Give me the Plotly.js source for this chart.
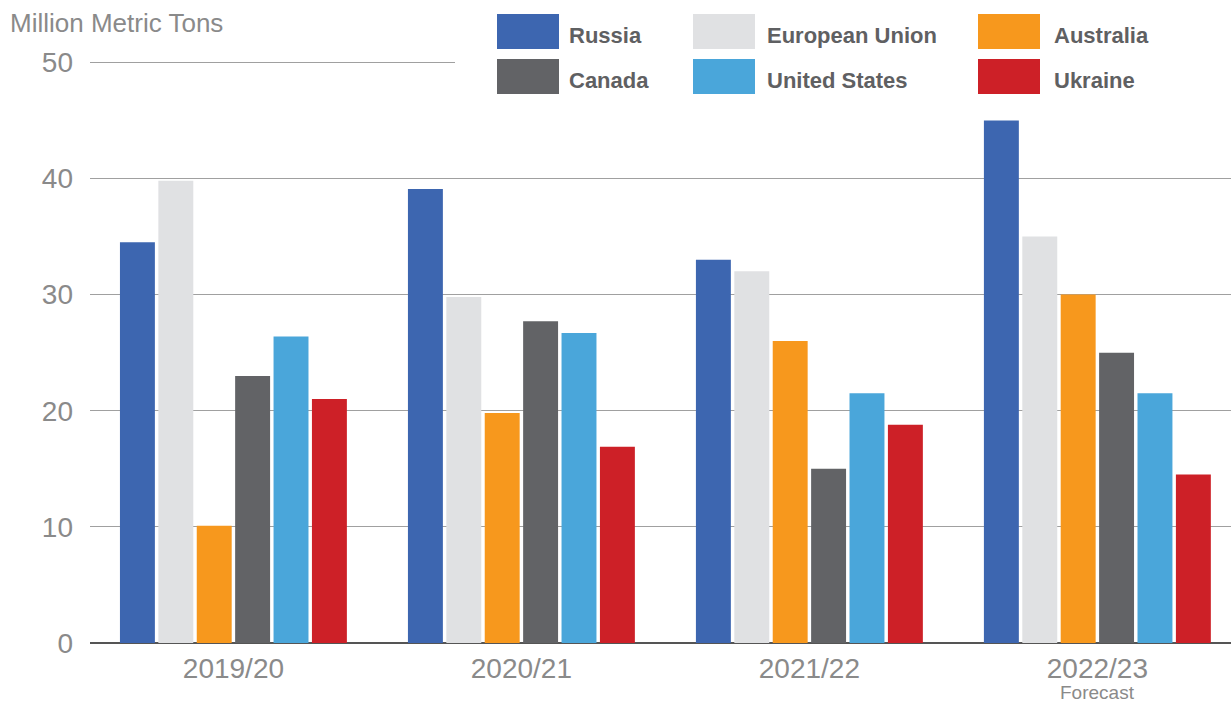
<!DOCTYPE html>
<html>
<head>
<meta charset="utf-8">
<script src="https://cdn.plot.ly/plotly-3.0.1.min.js"></script>
<style>html,body{margin:0;padding:0;background:#fff;}#chart{width:1231px;height:704px;}</style>
</head>
<body>
<div id="chart"></div>
<script>
const categories = ["2019/20", "2020/21", "2021/22", "2022/23"];
const seriesNames = ["Russia", "European Union", "Australia", "Canada", "United States", "Ukraine"];
const seriesColors = ["#3d66b0", "#e0e1e3", "#f7981d", "#626366", "#4aa6da", "#cd2027"];
const russia = [34.5, 39.1, 33.0, 45.0];
const europeanUnion = [39.8, 29.8, 32.0, 35.0];
const australia = [10.1, 19.8, 26.0, 30.0];
const canada = [23.0, 27.7, 15.0, 25.0];
const unitedStates = [26.4, 26.7, 21.5, 21.5];
const ukraine = [21.0, 16.9, 18.8, 14.5];
const yTicks = [0, 10, 20, 30, 40, 50];
const forecastNote = "Forecast";
const yUnit = "Million Metric Tons";

const seriesValues = [russia, europeanUnion, australia, canada, unitedStates, ukraine];

const W = 1231, H = 704;
const mL = 90, mR = 0, mT = 60, mB = 61;
const yTop = 50.2;
const pw = W - mL - mR, ph = H - mT - mB;
const px = x => (x - mL) / pw;
const py = y => (H - mB - y) / ph;
const FONT = "Liberation Sans, Arial, sans-serif";

const traces = seriesNames.map((n, i) => ({
  type: "bar",
  name: n,
  x: categories,
  y: seriesValues[i],
  marker: {color: seriesColors[i], line: {width: 0}},
  hoverinfo: "x+y+name"
}));

const shapes = [];
const annotations = [];

// white panel behind legend hides the gridline under it
shapes.push({type: "rect", xref: "paper", yref: "paper", x0: px(455), x1: px(1231), y0: py(102), y1: py(0),
  fillcolor: "#ffffff", line: {width: 0}, layer: "above"});

const colX = [497, 693, 978];
const rowY = [14, 59];
const textX = [567, 765, 1052];
seriesNames.forEach((n, i) => {
  const c = i % 3, r = Math.floor(i / 3);
  shapes.push({type: "rect", xref: "paper", yref: "paper",
    x0: px(colX[c]), x1: px(colX[c] + 62), y0: py(rowY[r] + 35), y1: py(rowY[r]),
    fillcolor: seriesColors[i], line: {width: 0}, layer: "above"});
  annotations.push({xref: "paper", yref: "paper", x: px(textX[c]), y: py(rowY[r] + 22),
    xanchor: "left", yanchor: "middle", text: "<b>" + n + "</b>", showarrow: false,
    font: {family: FONT, size: 22, color: "#5f6062"}});
});

annotations.push({xref: "paper", yref: "paper", x: px(8), y: py(23), xanchor: "left", yanchor: "middle",
  text: yUnit, showarrow: false, font: {family: FONT, size: 26, color: "#8a8a8a"}});

annotations.push({xref: "x", yref: "paper", x: categories[3], y: py(704), xanchor: "center", yanchor: "bottom",
  text: forecastNote, showarrow: false, borderpad: 0, font: {family: FONT, size: 19, color: "#8a8a8a"}});

const layout = {
  width: W, height: H,
  margin: {l: mL, r: mR, t: mT, b: mB, pad: 0},
  paper_bgcolor: "#ffffff", plot_bgcolor: "#ffffff",
  barmode: "group", bargap: 0.2, bargroupgap: 0.09,
  showlegend: false,
  font: {family: FONT, color: "#8a8a8a"},
  xaxis: {
    type: "category", range: [-0.498, 3.464], showgrid: false, zeroline: false, showline: false,
    ticks: "", tickfont: {size: 28, color: "#8a8a8a"}, ticklabelstandoff: 6, fixedrange: true
  },
  yaxis: {
    range: [0, yTop], tickvals: yTicks, ticktext: yTicks.map(String), showgrid: true, gridcolor: "#a0a0a0", gridwidth: 1.2,
    zeroline: true, zerolinecolor: "#555555", zerolinewidth: 1.5, showline: false, ticks: "",
    tickfont: {size: 28, color: "#8a8a8a"}, ticklabelstandoff: 16, fixedrange: true
  },
  shapes: shapes,
  annotations: annotations
};

Plotly.newPlot("chart", traces, layout, {displayModeBar: false, staticPlot: true});
</script>
</body>
</html>
